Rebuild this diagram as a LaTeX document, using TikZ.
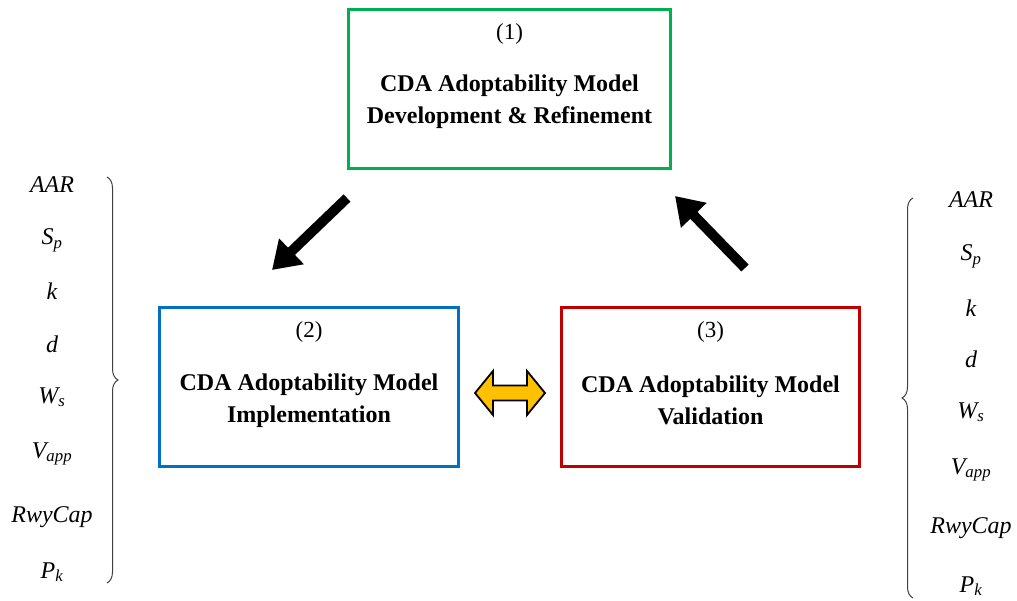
\documentclass[tikz,border=0pt]{standalone}
\usepackage{fontspec}
\setmainfont{Liberation Serif}
\usetikzlibrary{arrows.meta,decorations.pathreplacing,calc}
\definecolor{boxgreen}{RGB}{0,176,80}
\definecolor{boxblue}{RGB}{0,112,192}
\definecolor{boxred}{RGB}{192,0,0}
\definecolor{arrorange}{RGB}{255,192,0}
\begin{document}
\begin{tikzpicture}[x=1pt,y=-1pt,
  box/.style={draw, line width=2.6pt, minimum height=159pt, inner sep=0pt},
  num/.style={font=\fontsize{23}{26}\selectfont},
  ttl/.style={font=\fontsize{24}{32}\selectfont\bfseries, align=center},
  var/.style={font=\fontsize{24}{28}\selectfont\itshape, anchor=base, inner sep=0pt},
  bigarrow/.style={line width=10pt, -{Triangle[length=27pt,width=34pt]}},
  bracestyle/.style={decorate, decoration={brace, amplitude=11pt}, draw=black!75, line width=1pt}]
\useasboundingbox (0,0) rectangle (1017,601);
% boxes
\node[box, draw=boxgreen, minimum width=322pt] (b1) at (509.5,89) {};
\node[box, draw=boxblue, minimum width=299pt] (b2) at (309,387) {};
\node[box, draw=boxred, minimum width=298pt] (b3) at (710.5,387) {};
% box texts
\node[num] (n1) at ($(b1.north)+(0,26)$) {(1)};
\node[ttl] (t1) at ($(b1.center)+(0,13)$) {CDA Adoptability Model\\Development \& Refinement};
\node[num] (n2) at ($(b2.north)+(0,25.5)$) {(2)};
\node[ttl] (t2) at ($(b2.center)+(0,13.5)$) {CDA Adoptability Model\\Implementation};
\node[num] (n3) at ($(b3.north)+(0,25.5)$) {(3)};
\node[ttl] (t3) at ($(b3.center)+(0,13.5)$) {CDA Adoptability Model\\Validation};
% big black arrows
\coordinate (a1s) at (347,198);
\coordinate (a1e) at (272,270);
\coordinate (a2s) at (745,268);
\coordinate (a2e) at (675,196);
\draw[bigarrow] (a1s) -- (a1e);
\draw[bigarrow] (a2s) -- (a2e);
% double arrow
\coordinate (dc) at ($(b2.east)!0.5!(b3.west)+(0,6)$);
\draw[fill=arrorange, line width=1.8pt, line join=miter, shift={(dc)}]
  (-35,0) -- (-17,-22) -- (-17,-7.5) -- (17,-7.5) -- (17,-22) -- (35,0)
  -- (17,22) -- (17,7.5) -- (-17,7.5) -- (-17,22) -- cycle;
% left variables
\node[var] (l1) at (52,193) {AAR};
\node[var] (l2) at (52,245) {S\textsubscript{p}};
\node[var] (l3) at (52,300) {k};
\node[var] (l4) at (52,353) {d};
\node[var] (l5) at (52,403) {W\textsubscript{s}};
\node[var] (l6) at (52,458) {V\textsubscript{app}};
\node[var] (l7) at (52,522) {RwyCap};
\node[var] (l8) at (52,578) {P\textsubscript{k}};
% right variables
\node[var] (r1) at (971,208) {AAR};
\node[var] (r2) at (971,261) {S\textsubscript{p}};
\node[var] (r3) at (971,317) {k};
\node[var] (r4) at (971,367) {d};
\node[var] (r5) at (971,418) {W\textsubscript{s}};
\node[var] (r6) at (971,474) {V\textsubscript{app}};
\node[var] (r7) at (971,533) {RwyCap};
\node[var] (r8) at (971,592) {P\textsubscript{k}};
% braces
\coordinate (lbt) at (107,177);
\coordinate (lbb) at (107,583);
\coordinate (rbt) at (913,198);
\coordinate (rbb) at (913,598);
\draw[bracestyle] (lbt) -- (lbb);
\draw[bracestyle] (rbb) -- (rbt);
\end{tikzpicture}
\end{document}
